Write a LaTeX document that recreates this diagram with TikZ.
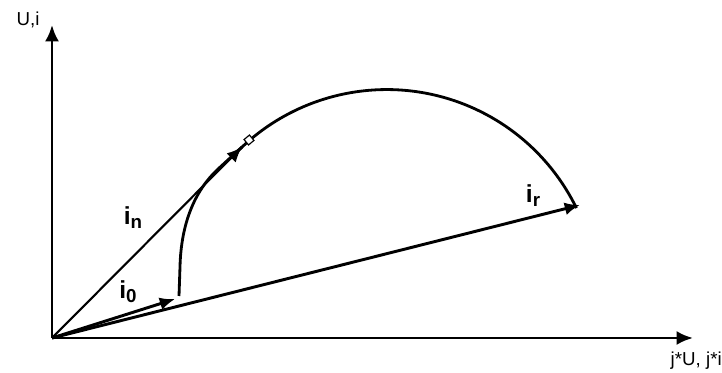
\documentclass[tikz,border=0pt]{standalone}
\usepackage{fontspec}
\setmainfont{Liberation Sans}
\usetikzlibrary{arrows.meta,positioning}

\newcommand{\vsub}[2]{#1\raisebox{-0.3ex}{\fontsize{16}{17}\selectfont #2}}

\begin{document}
\begin{tikzpicture}[
  x=0.03cm, y=0.03cm,
  axis/.style={line width=2.5pt, -{Latex[length=14pt,width=12pt]}},
  vec/.style={line width=2.5pt, -{Latex[length=13pt,width=11pt]}},
  axlabel/.style={font=\fontsize{16}{18}\selectfont, inner sep=0pt},
  veclabel/.style={font=\fontsize{21}{23}\selectfont\bfseries, inner sep=0pt}
]
\useasboundingbox (0,0) rectangle (722,373);
\coordinate (origin) at (52,35);
\coordinate (ytip) at (52,348);
\coordinate (xtip) at (693,35);
\coordinate (ntip) at (242,226);
\coordinate (zerotip) at (175,74);
\coordinate (start) at (179,77);
\coordinate (merge) at (217,203);
\coordinate (m) at (249,233);
\coordinate (rtip) at (580,168);

\draw[axis] (origin) -- (ytip);
\draw[axis] (origin) -- (xtip);
\node[axlabel] (ylabel) at (28,353) {U,i};
\node[axlabel, anchor=east] (xlabel) at (722,12) {j*U, j*i};

% vectors
\draw[vec, line width=1.8pt] (origin) -- (ntip);
\draw[vec] (origin) -- (zerotip);
\draw[vec] (origin) -- (rtip);

% transition curve and circle
\draw[line width=2.4pt] (start) -- (180,106) .. controls (181,150) and (195,182) .. (merge) -- (ntip);
\draw[line width=2.4pt] (235,219) arc[start angle=136, end angle=26, radius=211];
\node[draw, fill=white, rectangle, rotate=40, line width=1pt, inner sep=0pt, minimum size=6pt] (mark) at (m) {};

\node[veclabel] (nlabel) at (133,155) {\vsub{i}{n}};
\node[veclabel] (zlabel) at (128,81) {\vsub{i}{0}};
\node[veclabel] (rlabel) at (533,177) {\vsub{i}{r}};
\end{tikzpicture}
\end{document}
